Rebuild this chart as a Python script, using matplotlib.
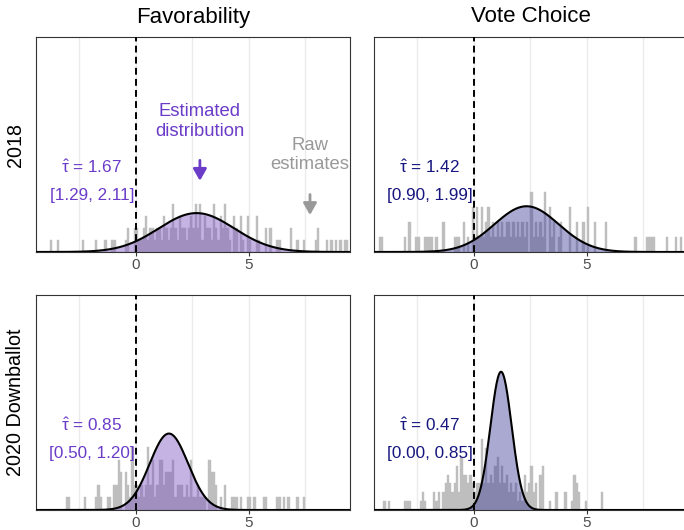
import numpy as np
import matplotlib
matplotlib.use("Agg")
import matplotlib.pyplot as plt

plt.rcParams['font.family'] = ['Liberation Sans', 'DejaVu Sans']
plt.rcParams['mathtext.fontset'] = 'custom'
plt.rcParams['mathtext.rm'] = 'Liberation Sans'
plt.rcParams['mathtext.it'] = 'Liberation Sans'

# raw estimates as (bin centre, count), bin width 0.1
bin_width = 0.1

fav18_x = [-3.75, -3.45, -2.35, -1.75, -1.35, -1.05, -0.95, -0.45, -0.35, -0.05,
           0.05, 0.15, 0.25, 0.35, 0.45, 0.55, 0.65, 0.75, 0.85, 0.95,
           1.05, 1.15, 1.25, 1.35, 1.45, 1.55, 1.65, 1.75, 1.85, 1.95,
           2.05, 2.15, 2.25, 2.35, 2.45, 2.55, 2.65, 2.75, 2.85, 2.95,
           3.05, 3.15, 3.25, 3.35, 3.45, 3.55, 3.65, 3.75, 3.85, 3.95,
           4.05, 4.15, 4.35, 4.45, 4.65, 4.75, 4.95,
           5.05, 5.35, 5.45, 5.75, 5.95,
           6.25, 6.35, 6.85, 7.15, 7.45, 7.95, 8.05, 8.45, 8.65, 8.85, 9.05, 9.25, 9.35]
fav18_n = [1, 1, 1, 1, 1, 1, 1, 1, 2, 2,
           2, 1, 1, 2, 3, 1, 2, 2, 1, 2,
           2, 1, 3, 2, 1, 2, 4, 2, 1, 3,
           2, 2, 1, 2, 3, 2, 4, 2, 4, 1,
           3, 2, 2, 1, 4, 2, 1, 3, 2, 4,
           2, 1, 3, 2, 3, 1, 3,
           1, 3, 1, 2, 2,
           1, 1, 2, 1, 1, 1, 2, 1, 1, 1, 1, 1, 1]

vote18_x = [-4.15, -4.05, -3.05, -2.85, -2.55, -2.45, -2.15, -2.05, -1.95, -1.85,
            -1.65, -1.35, -0.85, -0.75, -0.65, -0.45, -0.25, -0.05,
            0.05, 0.15, 0.25, 0.35, 0.45, 0.55, 0.65, 0.75, 0.85, 0.95,
            1.05, 1.15, 1.25, 1.35, 1.45, 1.55, 1.65, 1.75, 1.85, 1.95,
            2.05, 2.15, 2.25, 2.35, 2.55, 2.65, 2.75, 2.85, 2.95,
            3.05, 3.15, 3.35, 3.45, 3.55, 3.75, 3.85,
            4.25, 4.55, 4.85, 5.05, 5.35, 5.85,
            7.15, 7.65, 7.75, 7.85, 7.95, 8.55, 8.95, 9.15]
vote18_n = [1, 1, 1, 2, 1, 1, 1, 1, 1, 1,
            1, 2, 1, 1, 1, 2, 1, 3,
            1, 3, 1, 3, 1, 2, 3, 1, 2, 1,
            2, 1, 2, 1, 2, 2, 1, 2, 1, 2,
            1, 2, 1, 2, 4, 1, 2, 1, 2,
            1, 4, 3, 1, 2, 1, 2,
            3, 2, 2, 3, 2, 2,
            1, 1, 1, 1, 1, 1, 1, 1]

fav20_x = [-3.05, -2.95, -2.25, -1.75, -1.65, -1.55, -1.25, -1.15, -0.95, -0.85,
           -0.75, -0.65, -0.45, -0.35, -0.25, -0.15, -0.05,
           0.05, 0.15, 0.25, 0.35, 0.45, 0.55, 0.65, 0.75, 0.85, 0.95,
           1.05, 1.15, 1.25, 1.35, 1.45, 1.55, 1.65, 1.75, 1.85, 1.95,
           2.05, 2.15, 2.25, 2.35, 2.45, 2.55, 2.65, 2.75, 2.85, 2.95,
           3.05, 3.25, 3.35, 3.45, 3.55, 3.75, 3.95,
           4.25, 4.35, 4.45, 4.65, 4.95, 5.05, 5.25, 5.65, 5.75,
           6.25, 6.35, 6.55, 6.75, 7.15, 7.45]
fav20_n = [1, 1, 1, 1, 2, 1, 1, 1, 2, 2,
           4, 3, 3, 2, 1, 5, 2,
           2, 1, 2, 1, 2, 5, 2, 4, 1, 2,
           4, 4, 2, 3, 3, 3, 4, 1, 2, 2,
           2, 1, 2, 1, 4, 1, 1, 2, 1, 1,
           1, 4, 3, 3, 2, 1, 2,
           1, 1, 1, 1, 1, 1, 1, 1, 1,
           1, 1, 1, 1, 1, 1]

vote20_x = [-3.95, -3.75, -3.05, -2.95, -2.85, -2.35, -2.25, -2.15, -1.75, -1.65,
            -1.55, -1.35, -1.25, -1.15, -1.05, -0.95, -0.85, -0.75, -0.65, -0.55,
            -0.45, -0.35, -0.25, -0.15, -0.05,
            0.05, 0.15, 0.25, 0.35, 0.45, 0.55, 0.65, 0.75, 0.85, 0.95,
            1.05, 1.15, 1.25, 1.35, 1.45, 1.55, 1.65, 1.75, 1.85, 1.95,
            2.05, 2.15, 2.25, 2.35, 2.45, 2.55, 2.65, 2.75, 2.95, 3.05,
            3.35, 3.65, 4.05, 4.35, 4.45, 4.55, 4.65, 4.95, 5.65]
vote20_n = [1, 1, 1, 1, 1, 1, 2, 1, 2, 1,
            2, 2, 3, 4, 3, 2, 3, 5, 2, 6,
            4, 4, 3, 4, 3,
            2, 3, 3, 8, 3, 7, 3, 4, 3, 5,
            6, 3, 5, 3, 4, 2, 3, 2, 3, 1,
            2, 1, 4, 2, 3, 5, 2, 3, 4, 5,
            1, 2, 2, 1, 4, 3, 2, 1, 2]

# estimated distribution (mean, tau) and its interval
dist_mean = [2.68, 2.33, 1.46, 1.20]
tau_hat = [1.67, 1.42, 0.85, 0.47]
tau_ci = ["[1.29, 2.11]", "[0.90, 1.99]", "[0.50, 1.20]", "[0.00, 0.85]"]

col_titles = ["Favorability", "Vote Choice"]
row_titles = ["2018", "2020 Downballot"]

purple_txt = "#6B3CC8"
purple_fill = "#7E57C2"
navy_txt = "#16167E"
navy_fill = "#40409A"
bar_gray = "#BEBEBE"

hist_x = [fav18_x, vote18_x, fav20_x, vote20_x]
hist_n = [fav18_n, vote18_n, fav20_n, vote20_n]

W, H = 684, 530
fig = plt.figure(figsize=(W / 100, H / 100), dpi=100)

def add_px_axes(x0, y0, w, h):
    return fig.add_axes([x0 / W, 1 - (y0 + h) / H, w / W, h / H])

positions = [(36, 37), (374, 37), (36, 295), (374, 295)]
edges = np.arange(-4.5, 9.61, bin_width)
xs = np.linspace(-4.6, 9.7, 800)
arrow_style = "-|>,head_length=0.7,head_width=0.4"

for i, (x0, y0) in enumerate(positions):
    ax = add_px_axes(x0, y0, 314, 215)
    left_col = i % 2 == 0
    txt_col = purple_txt if left_col else navy_txt
    fill_col = purple_fill if left_col else navy_fill

    ax.set_xlim(-4.42, 9.47)
    ax.set_ylim(0, 1.32)
    for g in [-2.5, 0, 2.5, 5, 7.5]:
        ax.axvline(g, color="#EBEBEB", lw=1.0, zorder=0)

    raw = np.repeat(hist_x[i], hist_n[i])
    ax.hist(raw, bins=edges, density=True, color=bar_gray,
            edgecolor=bar_gray, lw=0.3, zorder=1)

    ys = np.exp(-0.5 * ((xs - dist_mean[i]) / tau_hat[i]) ** 2) / (tau_hat[i] * np.sqrt(2 * np.pi))
    ax.fill_between(xs, ys, color=fill_col, alpha=0.45, lw=0, zorder=2)
    ax.plot(xs, ys, color="black", lw=1.5, zorder=3)
    ax.axvline(0, color="black", lw=1.4, ls=(0, (3.5, 2.2)), zorder=4)

    ax.text(-1.95, 0.52, r"$\hat{\tau}$" + " = %.2f" % tau_hat[i], color=txt_col,
            fontsize=12.3, ha="center", va="center", zorder=5)
    ax.text(-1.95, 0.345, tau_ci[i], color=txt_col, fontsize=12.3,
            ha="center", va="center", zorder=5)

    ax.set_xticks([0, 5])
    ax.set_yticks([])
    ax.tick_params(axis="x", length=3, width=0.8, color="#333333",
                   labelcolor="#4D4D4D", labelsize=11, pad=1)
    for sp in ax.spines.values():
        sp.set_color("#333333")
        sp.set_linewidth(0.8)

    if i == 0:
        ax.text(2.83, 0.80, "Estimated\ndistribution", color=purple_txt, fontsize=13.3,
                ha="center", va="center", linespacing=1.2, zorder=5)
        ax.annotate("", xy=(2.83, 0.42), xytext=(2.83, 0.58),
                    arrowprops=dict(arrowstyle=arrow_style, color=purple_txt, lw=2), zorder=5)
        ax.text(7.7, 0.595, "Raw\nestimates", color="#999999", fontsize=13.3,
                ha="center", va="center", linespacing=1.2, zorder=5)
        ax.annotate("", xy=(7.7, 0.21), xytext=(7.7, 0.37),
                    arrowprops=dict(arrowstyle=arrow_style, color="#999999", lw=2), zorder=5)

fig.text(193 / W, 1 - 17 / H, col_titles[0], fontsize=16, ha="center", va="center")
fig.text(531 / W, 1 - 17 / H, col_titles[1], fontsize=16, ha="center", va="center")
fig.text(16 / W, 1 - 145 / H, row_titles[0], fontsize=14.2, rotation=90, ha="center", va="center")
fig.text(16 / W, 1 - 402 / H, row_titles[1], fontsize=14.2, rotation=90, ha="center", va="center")

fig.savefig("out.png", dpi=100)
